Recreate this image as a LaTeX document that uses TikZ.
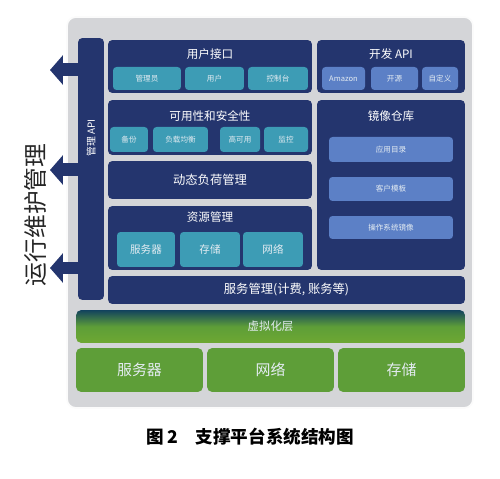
\documentclass[tikz,border=0pt]{standalone}
\usepackage{fontspec}
\setmainfont{Noto Sans CJK SC}
\usetikzlibrary{arrows.meta}
\definecolor{navy}{HTML}{24356E}
\definecolor{tealsub}{HTML}{3D9CB5}
\definecolor{bluesub}{HTML}{5C80C6}
\definecolor{hwgreen}{HTML}{5E9E38}
\definecolor{framegray}{HTML}{D4D5D8}
\definecolor{subtext}{HTML}{E4ECF2}
\begin{document}
\begin{tikzpicture}[x=0.02cm,y=-0.02cm,
    panel/.style={fill=navy, rounded corners=2.5pt, inner sep=0pt},
    tealbox/.style={fill=tealsub, rounded corners=2pt, inner sep=0pt, text=subtext, font=\fontsize{4.3}{5}\selectfont},
    bluebox/.style={fill=bluesub, rounded corners=2pt, inner sep=0pt, text=subtext, font=\fontsize{4.3}{5}\selectfont},
    hwbox/.style={fill=hwgreen, rounded corners=3pt, inner sep=0pt, text=subtext, font=\fontsize{8.5}{10}\selectfont},
    heading/.style={text=white, font=\fontsize{6.6}{8}\selectfont},
    opsarrow/.style={navy, line width=0.26cm, -{Triangle[length=0.26cm,width=0.58cm]}}]
  \useasboundingbox (0,0) rectangle (500,479);
  % outer frame
  \node[fill=framegray, draw=white!90!framegray, line width=1pt, rounded corners=5pt,
        minimum width=8.12cm, minimum height=7.82cm] (frame) at (270,212.5) {};
  % management api bar
  \node[panel, minimum width=0.52cm, minimum height=5.24cm] (api) at (91,169) {};
  \node[text=white, rotate=90, font=\fontsize{5.6}{7}\selectfont] (apitext) at (91,138) {管理 API};
  % user interface
  \node[panel, minimum width=4.08cm, minimum height=1.06cm] (ui) at (210,66.5) {};
  \node[heading] (uititle) at (210,54) {用户接口};
  \node[tealbox, minimum width=1.36cm, minimum height=0.46cm] (admin) at (147,78.5) {管理员};
  \node[tealbox, minimum width=1.18cm, minimum height=0.46cm] (user) at (214.5,78.5) {用户};
  \node[tealbox, minimum width=1.20cm, minimum height=0.46cm] (console) at (278,78.5) {控制台};
  % developer api
  \node[panel, minimum width=2.96cm, minimum height=1.06cm] (dev) at (391,66.5) {};
  \node[heading] (devtitle) at (391,54) {开发 API};
  \node[bluebox, minimum width=0.86cm, minimum height=0.46cm] (amazon) at (343.5,78.5) {Amazon};
  \node[bluebox, minimum width=0.94cm, minimum height=0.46cm] (opensrc) at (394.5,78.5) {开源};
  \node[bluebox, minimum width=0.72cm, minimum height=0.46cm] (custom) at (440,78.5) {自定义};
  % availability and security
  \node[panel, minimum width=4.08cm, minimum height=1.10cm] (avail) at (210,127.5) {};
  \node[heading] (availtitle) at (210,116) {可用性和安全性};
  \node[tealbox, minimum width=0.76cm, minimum height=0.50cm] (backup) at (129,139.5) {备份};
  \node[tealbox, minimum width=1.10cm, minimum height=0.50cm] (balance) at (180.5,139.5) {负载均衡};
  \node[tealbox, minimum width=0.80cm, minimum height=0.50cm] (ha) at (240,139.5) {高可用};
  \node[tealbox, minimum width=0.88cm, minimum height=0.50cm] (monitor) at (286,139.5) {监控};
  % image repository
  \node[panel, minimum width=2.96cm, minimum height=3.40cm] (repo) at (391,185) {};
  \node[heading] (repotitle) at (391,116) {镜像仓库};
  \node[bluebox, minimum width=2.48cm, minimum height=0.50cm] (appdir) at (391,149.5) {应用目录};
  \node[bluebox, minimum width=2.48cm, minimum height=0.48cm] (tmpl) at (391,189) {客户模板};
  \node[bluebox, minimum width=2.48cm, minimum height=0.46cm] (osimg) at (391,227.5) {操作系统镜像};
  % dynamic load management
  \node[panel, minimum width=4.08cm, minimum height=0.76cm, heading, font=\fontsize{7}{8}\selectfont] (dyn) at (210,180) {动态负荷管理};
  % resource management
  \node[panel, minimum width=4.08cm, minimum height=1.28cm] (res) at (210,238) {};
  \node[heading] (restitle) at (210,217) {资源管理};
  \node[tealbox, minimum width=1.16cm, minimum height=0.70cm, font=\fontsize{6}{7}\selectfont] (rserver) at (146,249.5) {服务器};
  \node[tealbox, minimum width=1.20cm, minimum height=0.70cm, font=\fontsize{6}{7}\selectfont] (rstore) at (210,249.5) {存储};
  \node[tealbox, minimum width=1.20cm, minimum height=0.70cm, font=\fontsize{6}{7}\selectfont] (rnet) at (273,249.5) {网络};
  % service management
  \node[panel, minimum width=7.14cm, minimum height=0.56cm, heading, font=\fontsize{7}{8}\selectfont] (svc) at (286.5,290) {服务管理(计费, 账务等)};
  % virtualization layer
  \node[rounded corners=3pt, top color=navy!60!teal!80!black, bottom color=hwgreen!90!yellow, middle color=hwgreen,
        minimum width=7.78cm, minimum height=0.66cm, inner sep=0pt, text=subtext, font=\fontsize{6.5}{8}\selectfont] (virt) at (270.5,326.5) {虚拟化层};
  % hardware
  \node[hwbox, minimum width=2.54cm, minimum height=0.88cm] (server) at (139.5,370) {服务器};
  \node[hwbox, minimum width=2.54cm, minimum height=0.88cm] (network) at (270.5,370) {网络};
  \node[hwbox, minimum width=2.54cm, minimum height=0.88cm] (storage) at (401.5,370) {存储};
  % operations arrows
  \coordinate (tipa) at (50,70);
  \coordinate (tipb) at (50,170);
  \coordinate (tipc) at (50,268);
  \draw[opsarrow] (api.west |- tipa) -- (tipa);
  \draw[opsarrow] (api.west |- tipb) -- (tipb);
  \draw[opsarrow] (api.west |- tipc) -- (tipc);
  \node[rotate=90, text=black!85, font=\fontsize{13.5}{15}\selectfont] (ops) at (35,215) {运行维护管理};
  % caption
  \node[font=\fontsize{10}{12}\selectfont\bfseries] (caption) at (250,437) {图 2\quad 支撑平台系统结构图};
\end{tikzpicture}
\end{document}
